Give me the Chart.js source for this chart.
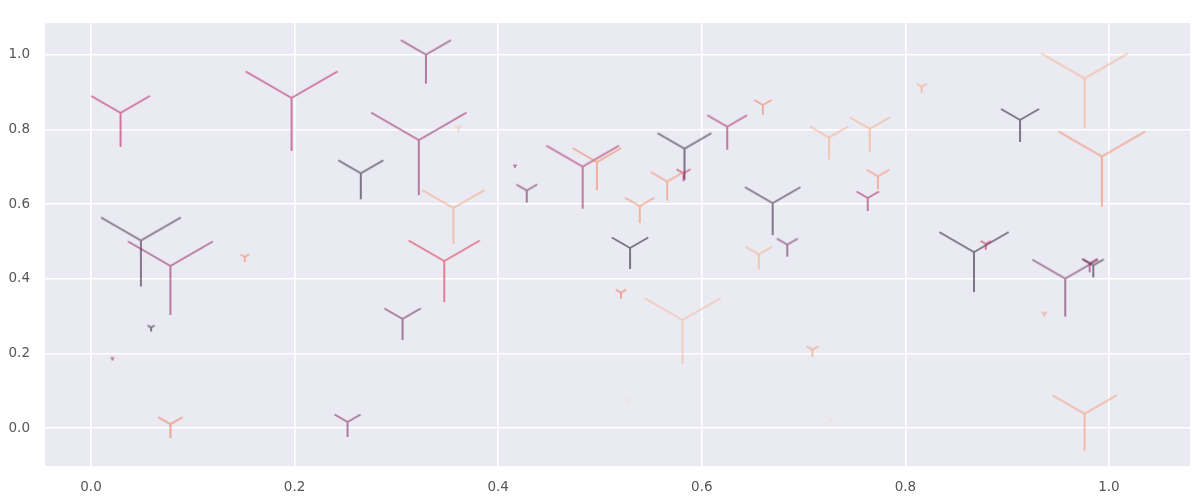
<!DOCTYPE html>
<html>
<head>
<meta charset="utf-8">
<script src="https://cdn.jsdelivr.net/npm/chart.js@4"></script>
<style>
body { margin: 0; background: #fff; }
</style>
</head>
<body>
<canvas id="myChart" width="1200" height="504"></canvas>
<script>
// point positions
const xs = [0.029, 0.197, 0.265, 0.049, 0.078, 0.151, 0.059, 0.306, 0.021, 0.078,
    0.252, 0.329, 0.322, 0.361, 0.356, 0.347, 0.4165, 0.428, 0.483, 0.497,
    0.583, 0.582, 0.566, 0.625, 0.660, 0.539, 0.5295, 0.6696, 0.656, 0.684,
    0.5206, 0.581, 0.527, 0.816, 0.976, 0.9126, 0.993, 0.725, 0.765, 0.773,
    0.763, 0.8674, 0.879, 0.957, 0.9846, 0.981, 0.9365, 0.976, 0.7086, 0.7266];
const ys = [0.845, 0.885, 0.683, 0.503, 0.435, 0.459, 0.270, 0.293, 0.187, 0.011,
    0.017, 1.001, 0.772, 0.805, 0.590, 0.448, 0.703, 0.637, 0.701, 0.713,
    0.749, 0.683, 0.661, 0.808, 0.866, 0.595, 0.483, 0.603, 0.466, 0.492,
    0.3635, 0.290, 0.075, 0.915, 0.937, 0.826, 0.728, 0.779, 0.802, 0.675,
    0.617, 0.472, 0.494, 0.401, 0.4365, 0.442, 0.3075, 0.039, 0.2107, 0.0248];
// marker size (arm length)
const sizes = [34, 53, 26, 46, 49, 5, 4, 21, 2, 14,
    15, 29, 55, 4, 36, 41, 2, 12, 42, 28,
    31, 8, 19, 23, 10, 17, 21, 32, 15, 12,
    6, 44, 4, 6, 50, 22, 50, 22, 23, 13,
    13, 40, 6, 38, 12, 9, 3, 37, 7, 3];
// colour value on the colormap
const colorVals = [0.5, 0.5, 0.1, 0.15, 0.4, 0.8, 0.1, 0.3, 0.5, 0.75,
    0.35, 0.35, 0.4, 0.93, 0.88, 0.6, 0.5, 0.3, 0.45, 0.8,
    0.1, 0.5, 0.82, 0.45, 0.8, 0.82, 0.1, 0.15, 0.9, 0.3,
    0.75, 0.92, 0.98, 0.88, 0.9, 0.1, 0.8, 0.9, 0.9, 0.82,
    0.45, 0.1, 0.55, 0.3, 0.1, 0.4, 0.85, 0.85, 0.85, 0.97];

const xTicks = [0.0, 0.2, 0.4, 0.6, 0.8, 1.0];
const yTicks = [0.0, 0.2, 0.4, 0.6, 0.8, 1.0];

// rocket-like colormap
const rocket = [
    [3, 5, 26], [35, 19, 50], [69, 28, 71], [106, 31, 86], [146, 28, 91], [185, 22, 87],
    [217, 40, 71], [237, 80, 62], [244, 126, 87], [246, 170, 130], [250, 235, 221]
];

function rocketColor(v, alpha) {
    const t = Math.min(Math.max(v, 0), 1) * (rocket.length - 1);
    const i = Math.min(Math.floor(t), rocket.length - 2);
    const f = t - i;
    const c = rocket[i].map((a, k) => Math.round(a + (rocket[i + 1][k] - a) * f));
    return `rgba(${c[0]}, ${c[1]}, ${c[2]}, ${alpha})`;
}

// tri_down marker drawn on a small canvas
function triDown(r, color) {
    const c = document.createElement('canvas');
    const half = Math.ceil(r) + 2;
    c.width = c.height = half * 2;
    const g = c.getContext('2d');
    g.strokeStyle = color;
    g.lineWidth = 2;
    g.beginPath();
    g.moveTo(half, half); g.lineTo(half, half + r);
    g.moveTo(half, half); g.lineTo(half - r * 0.866, half - r * 0.5);
    g.moveTo(half, half); g.lineTo(half + r * 0.866, half - r * 0.5);
    g.stroke();
    return c;
}

const markers = sizes.map((s, i) => triDown(s, rocketColor(colorVals[i], 0.55)));
const points = xs.map((x, i) => ({ x: x, y: ys[i] }));

const plotBg = {
    id: 'plotBg',
    beforeDraw(chart) {
        const { ctx, chartArea: a } = chart;
        ctx.save();
        ctx.fillStyle = '#eaeaf2';
        ctx.fillRect(a.left, a.top, a.right - a.left, a.bottom - a.top);
        ctx.restore();
    }
};

const tickFont = { family: 'DejaVu Sans', size: 13.5 };

const ctx = document.getElementById('myChart');
const myChart = new Chart(ctx, {
    type: 'scatter',
    data: {
        datasets: [{
            data: points,
            pointStyle: c => markers[c.dataIndex],
            pointRadius: 1,
            borderWidth: 0,
            clip: false
        }]
    },
    options: {
        responsive: false,
        animation: false,
        layout: { padding: { top: 21, right: 10, left: 0, bottom: 0 } },
        plugins: {
            legend: { display: false },
            tooltip: { enabled: false }
        },
        scales: {
            x: {
                type: 'linear',
                min: -0.0452,
                max: 1.0796,
                afterBuildTicks: s => { s.ticks = xTicks.map(v => ({ value: v })); },
                afterFit: s => { s.height = 38; },
                grid: { color: '#ffffff', lineWidth: 1.6, drawTicks: false },
                border: { display: false },
                ticks: {
                    padding: 13,
                    color: '#555',
                    font: tickFont,
                    maxRotation: 0,
                    callback: v => v.toFixed(1)
                }
            },
            y: {
                type: 'linear',
                min: -0.101,
                max: 1.0853,
                afterBuildTicks: s => { s.ticks = yTicks.map(v => ({ value: v })); },
                afterFit: s => { s.width = 45; },
                grid: { color: '#ffffff', lineWidth: 1.6, drawTicks: false },
                border: { display: false },
                ticks: {
                    padding: 15,
                    color: '#555',
                    font: tickFont,
                    callback: v => v.toFixed(1)
                }
            }
        }
    },
    plugins: [plotBg]
});
</script>
</body>
</html>
